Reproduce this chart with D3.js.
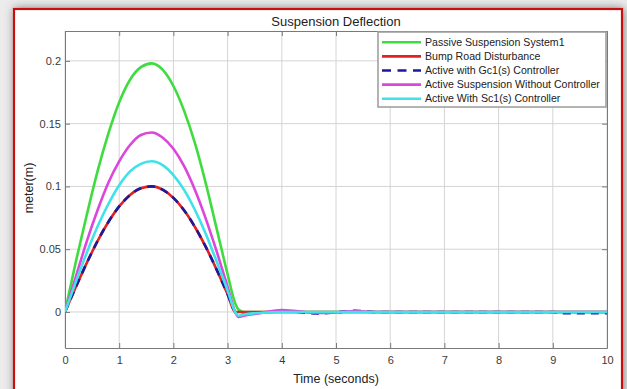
<!DOCTYPE html>
<html>
<head>
<meta charset="utf-8">
<script src="https://cdn.jsdelivr.net/npm/d3@7"></script>
<style>
  html, body { margin: 0; padding: 0; background: #ececec; }
  svg { display: block; }
  text { font-family: "Liberation Sans", Arial, sans-serif; }
</style>
</head>
<body>
<svg id="chart" width="627" height="389"></svg>
<script>
// Sample times (seconds)
const time = [0, 0.2, 0.4, 0.6, 0.8, 1.0, 1.2, 1.4, 1.6, 1.8, 2.0, 2.2, 2.4, 2.6, 2.8, 3.0,
  3.14, 3.2, 3.3, 3.5, 3.8, 4.0, 4.3, 4.65, 5.0, 5.35, 5.7, 6, 7, 8, 9, 9.2, 9.6, 10];

// Suspension deflection (m) for each configuration
const passive = [0, .040, .077, .112, .142, .167, .185, .195, .198, .193, .180, .160, .134, .102, .066, .030,
  .007, .002, 0, 0, 0, 0, 0, 0, 0, 0, 0, 0, 0, 0, 0, 0, 0, 0];
const bumpRoad = [0, .0199, .0389, .0565, .0717, .0841, .0932, .0985, .1000, .0974, .0909, .0808, .0675, .0516, .0335, .0141,
  0, 0, 0, 0, 0, 0, 0, 0, 0, 0, 0, 0, 0, 0, 0, 0, 0, 0];
const activeGc1 = [0, .0199, .0389, .0565, .0717, .0841, .0932, .0985, .1000, .0974, .0909, .0808, .0675, .0516, .0335, .0141,
  0, -.003, -.002, -.001, 0, .0005, 0, -.0012, -.0003, .001, 0, 0, 0, 0, 0, -.001, -.001, -.001];
const activeNoCtrl = [0, .028, .056, .081, .103, .120, .133, .141, .143, .139, .130, .116, .097, .074, .048, .020,
  0, -.004, -.003, -.0015, .0005, .0015, .0005, -.0008, -.0003, .0008, 0, 0, 0, 0, 0, 0, 0, 0];
const activeSc1 = [0, .024, .047, .068, .086, .101, .112, .118, .120, .117, .109, .097, .081, .062, .040, .017,
  0, -.003, -.002, -.001, -.0003, 0, 0, 0, 0, 0, 0, 0, 0, 0, 0, 0, 0, 0];

const seriesNames = ["Passive Suspension System1", "Bump Road Disturbance", "Active with Gc1(s) Controller",
  "Active Suspension Without Controller", "Active With Sc1(s) Controller"];
const xTicks = [0, 1, 2, 3, 4, 5, 6, 7, 8, 9, 10];
const yTicks = [0, 0.05, 0.1, 0.15, 0.2];
const yTickLabels = ["0", "0.05", "0.1", "0.15", "0.2"];

const series = [
  { name: seriesNames[0], values: passive, color: "#3fdc3f", dash: null },
  { name: seriesNames[1], values: bumpRoad, color: "#e02222", dash: null },
  { name: seriesNames[2], values: activeGc1, color: "#1a1a9e", dash: "8,6" },
  { name: seriesNames[3], values: activeNoCtrl, color: "#dc46dc", dash: null },
  { name: seriesNames[4], values: activeSc1, color: "#3fe2ea", dash: null }
];

const svg = d3.select("#chart");

// Figure frame with soft shadow
const defs = svg.append("defs");
const shadow = defs.append("filter").attr("id", "shadow")
  .attr("x", "-10%").attr("y", "-10%").attr("width", "120%").attr("height", "120%");
shadow.append("feDropShadow").attr("dx", 1).attr("dy", 0).attr("stdDeviation", 5)
  .attr("flood-color", "#555").attr("flood-opacity", 0.7);

svg.append("rect").attr("x", 14).attr("y", 9).attr("width", 608).attr("height", 400)
  .attr("fill", "#fff").attr("stroke", "#cc1010").attr("stroke-width", 2.2)
  .attr("filter", "url(#shadow)");

const plot = { left: 65, top: 31, right: 607, bottom: 348 };
const x = d3.scaleLinear().domain([0, 10]).range([plot.left, plot.right]);
const y = d3.scaleLinear().domain([-0.0287, 0.2238]).range([plot.bottom, plot.top]);

// Grid
const grid = svg.append("g").attr("stroke", "#d4d4d4").attr("stroke-width", 1);
grid.selectAll("line.gx").data(xTicks).join("line")
  .attr("x1", d => x(d)).attr("x2", d => x(d)).attr("y1", plot.top).attr("y2", plot.bottom);
grid.selectAll("line.gy").data(yTicks).join("line")
  .attr("x1", plot.left).attr("x2", plot.right).attr("y1", d => y(d)).attr("y2", d => y(d));

// Axes (ticks pointing inward, box on all sides)
const axisColor = "#7a7a7a";
const styleAxis = (g) => {
  g.select(".domain").attr("stroke", axisColor);
  g.selectAll(".tick line").attr("stroke", axisColor);
  g.selectAll(".tick text").attr("fill", "#3a3a3a").attr("font-size", 11)
    .attr("font-family", "'Liberation Sans', Arial, sans-serif");
};
svg.append("g").attr("transform", `translate(0,${plot.bottom})`)
  .call(d3.axisBottom(x).tickValues(xTicks).tickFormat(d3.format("d")).tickSizeInner(-5).tickSizeOuter(0).tickPadding(8))
  .call(styleAxis);
svg.append("g").attr("transform", `translate(0,${plot.top})`)
  .call(d3.axisTop(x).tickValues(xTicks).tickFormat("").tickSizeInner(-5).tickSizeOuter(0))
  .call(styleAxis);
svg.append("g").attr("transform", `translate(${plot.left},0)`)
  .call(d3.axisLeft(y).tickValues(yTicks).tickFormat((d, i) => yTickLabels[i]).tickSizeInner(-5).tickSizeOuter(0).tickPadding(4))
  .call(styleAxis);
svg.append("g").attr("transform", `translate(${plot.right},0)`)
  .call(d3.axisRight(y).tickValues(yTicks).tickFormat("").tickSizeInner(-5).tickSizeOuter(0))
  .call(styleAxis);

// Curves
const line = d3.line()
  .x((d, i) => x(time[i]))
  .y(d => y(d))
  .curve(d3.curveMonotoneX);

const clip = defs.append("clipPath").attr("id", "plotClip");
clip.append("rect").attr("x", plot.left).attr("y", plot.top)
  .attr("width", plot.right - plot.left).attr("height", plot.bottom - plot.top);

svg.append("g").attr("clip-path", "url(#plotClip)")
  .selectAll("path").data(series).join("path")
  .attr("d", d => line(d.values))
  .attr("fill", "none")
  .attr("stroke", d => d.color)
  .attr("stroke-width", 2.6)
  .attr("stroke-linejoin", "round")
  .attr("stroke-dasharray", d => d.dash);

// Title and axis labels
svg.append("text").attr("x", 336).attr("y", 26).attr("text-anchor", "middle")
  .attr("font-size", 13).attr("fill", "#222").text("Suspension Deflection");
svg.append("text").attr("x", 336).attr("y", 383).attr("text-anchor", "middle")
  .attr("font-size", 12.5).attr("fill", "#222").text("Time (seconds)");
svg.append("text").attr("transform", "translate(33,188) rotate(-90)").attr("text-anchor", "middle")
  .attr("font-size", 12.5).attr("fill", "#222").text("meter(m)");

// Legend
const legend = svg.append("g");
legend.append("rect").attr("x", 378).attr("y", 32).attr("width", 228).attr("height", 75)
  .attr("fill", "#fff").attr("stroke", "#a0a0a0").attr("stroke-width", 1.6);
const rows = legend.selectAll("g.row").data(series).join("g")
  .attr("transform", (d, i) => `translate(0,${42.3 + i * 14.1})`);
rows.append("line").attr("x1", 382).attr("x2", 421).attr("y1", 0).attr("y2", 0)
  .attr("stroke", d => d.color).attr("stroke-width", 2.6)
  .attr("stroke-dasharray", d => d.dash ? "9,6.5" : null);
rows.append("text").attr("x", 425).attr("y", 3.7).attr("font-size", 10.6).attr("fill", "#222")
  .text(d => d.name);
</script>
</body>
</html>
